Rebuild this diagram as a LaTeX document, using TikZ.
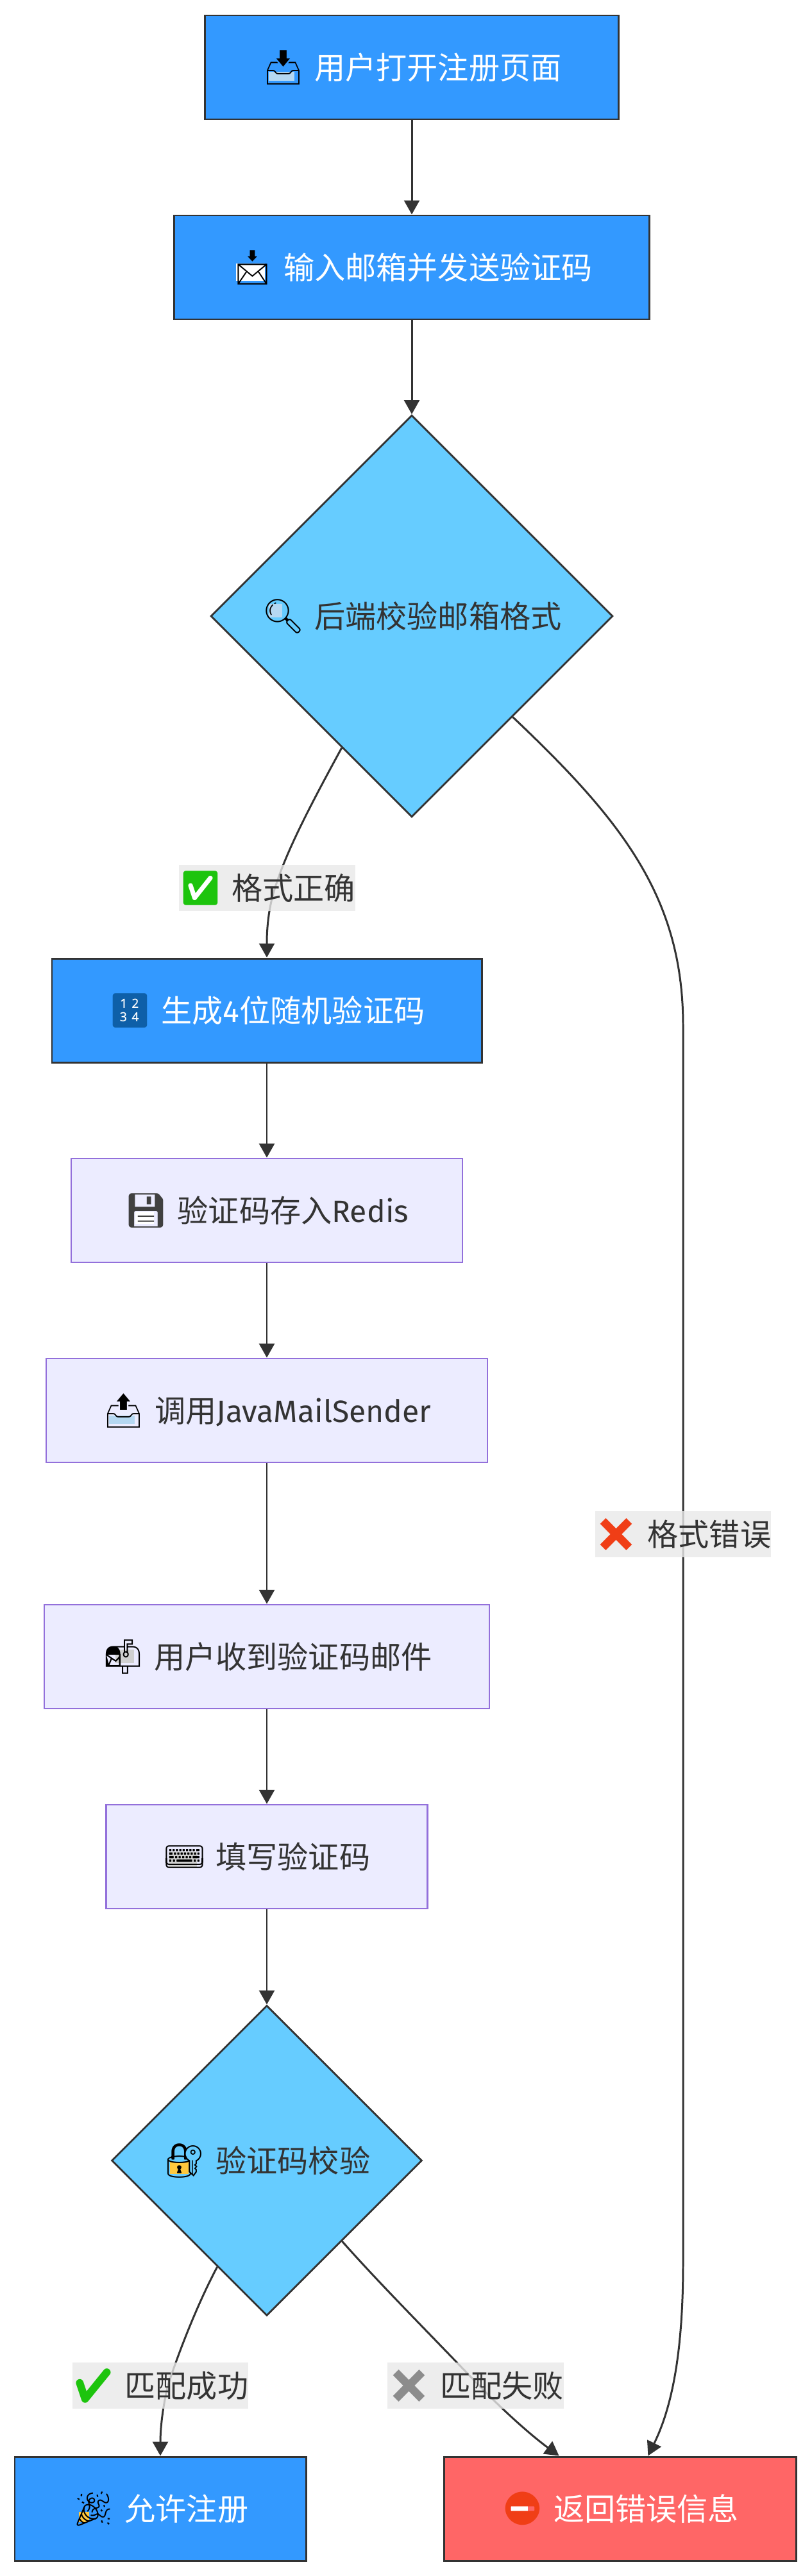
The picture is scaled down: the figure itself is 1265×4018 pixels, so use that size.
\documentclass[tikz,border=0pt]{standalone}
\usepackage{fontspec}
\setmainfont{Noto Sans CJK SC}
\newfontfamily\emojifont{Noto Emoji}
\newfontfamily\latinfont{Fira Sans}
\usetikzlibrary{shapes.geometric,arrows.meta}
\newcommand{\pxu}{0.02cm}
\newlength{\emosize}
\setlength{\emosize}{30pt}
\newcommand{\emo}[2]{\textcolor{#1}{\emojifont\fontsize{30pt}{30pt}\selectfont #2}\hspace{8.5pt}}
\newcommand{\emoback}[5]{\rlap{\hspace{#2\emosize}\textcolor{#1}{\rule[#3\emosize]{#4\emosize}{#5\emosize}}}}
\definecolor{inkgrey}{HTML}{333333}
\definecolor{bluefill}{HTML}{3399FF}
\definecolor{skyfill}{HTML}{66CCFF}
\definecolor{redfill}{HTML}{FF6666}
\definecolor{lavfill}{HTML}{ECECFF}
\definecolor{lavline}{HTML}{9370DB}
\definecolor{tagfill}{HTML}{E8E8E8}
\definecolor{icongreen}{HTML}{1DC40D}
\definecolor{iconred}{HTML}{F03E16}
\definecolor{iconblue}{HTML}{0E5FA8}
\definecolor{icontray}{HTML}{B5D8F2}
\definecolor{iconamber}{HTML}{FFC83D}
\definecolor{icongrey}{HTML}{D0D0D0}
\tikzset{% arrow tips and looks
	>={Triangle[length=12.5pt,width=13.6pt]},
	basebox/.style={rectangle, font=\fontsize{27.4pt}{32pt}\selectfont, inner sep=0pt, minimum height=162*\pxu},
	bluebox/.style={basebox, draw=inkgrey, line width=1.7pt, fill=bluefill, text=white},
	redbox/.style={basebox, draw=inkgrey, line width=1.7pt, fill=redfill, text=white},
	lavbox/.style={basebox, draw=lavline, line width=1.5pt, fill=lavfill, text=inkgrey},
	checkbox/.style={diamond, shape aspect=1, draw=inkgrey, line width=1.6pt, fill=skyfill, text=inkgrey, inner sep=0pt, font=\fontsize{27.4pt}{32pt}\selectfont},
	flow/.style={->, draw=inkgrey, line width=1.7pt},
	edgetag/.style={rectangle, fill=tagfill, fill opacity=.8, text opacity=1, text=inkgrey, inner sep=0pt, minimum width=273*\pxu, minimum height=72*\pxu, font=\fontsize{27.4pt}{32pt}\selectfont}
}
\begin{document}
\begin{tikzpicture}[x=\pxu,y=-\pxu]
	\useasboundingbox (0,0) rectangle (1265,4018);

	% main column
	\node[bluebox, minimum width=645*\pxu] (open) at (642,105) {\emoback{icontray}{.2}{-.05}{.75}{.25}\emo{black}{📥}用户打开注册页面};
	\node[bluebox, minimum width=741*\pxu] (mail) at (642,417) {\emoback{white}{.15}{-.05}{.85}{.5}\emo{black}{📩}输入邮箱并发送验证码};
	\node[checkbox, minimum width=627*\pxu, minimum height=627*\pxu] (fmt) at (642,961) {\emoback{icontray}{.2}{.3}{.4}{.4}\emo{black}{🔍}后端校验邮箱格式};

	% code path
	\node[bluebox, minimum width=670*\pxu] (gen) at (416,1576) {\emoback{white}{.15}{-.05}{.85}{.8}\emo{iconblue}{🔢}生成{\latinfont 4}位随机验证码};
	\node[lavbox, minimum width=610*\pxu] (store) at (416,1888) {\emoback{white}{.3}{-.05}{.55}{.35}\emo{black!75}{💾}验证码存入{\latinfont Redis}};
	\node[lavbox, minimum width=688*\pxu] (send) at (416,2200) {\emoback{icontray}{.2}{-.05}{.75}{.25}\emo{black}{📤}调用{\latinfont JavaMailSender}};
	\node[lavbox, minimum width=694*\pxu] (recv) at (416,2584) {\emoback{icongrey}{.4}{.15}{.55}{.4}\emo{black}{📬}用户收到验证码邮件};
	\node[lavbox, minimum width=501*\pxu] (fill) at (416,2896) {\emoback{icongrey}{.15}{.05}{.85}{.45}\emo{black}{⌨}填写验证码};
	\node[checkbox, minimum width=484*\pxu, minimum height=484*\pxu] (code) at (416,3370) {\emoback{iconamber}{.2}{-.05}{.55}{.35}\emo{black}{🔐}验证码校验};

	% results
	\node[bluebox, minimum width=454*\pxu] (allow) at (250,3913) {\emoback{iconamber}{.2}{-.05}{.3}{.3}\emo{black}{🎉}允许注册};
	\node[redbox, minimum width=549*\pxu] (back) at (966.5,3913) {\emoback{white}{.3}{.2}{.5}{.25}\emo{iconred}{⛔}返回错误信息};

	% straight edges
	\draw[flow] (open) -- (mail);
	\draw[flow] (mail) -- (fmt);
	\draw[flow] (gen) -- (store);
	\draw[flow] (store) -- (send);
	\draw[flow] (send) -- (recv);
	\draw[flow] (recv) -- (fill);
	\draw[flow] (fill) -- (code);

	% edges with tags
	\draw[flow] (fmt.-118) .. controls (490,1245) and (450,1320) .. (431,1378)
		node[edgetag] (fmtok) at (416.5,1385) {\emoback{white}{.15}{-.05}{.85}{.8}\emo{icongreen}{✅}格式正确}
		.. controls (418,1415) and (416,1450) .. (gen.north);
	\draw[flow] (fmt.-45.5) .. controls (970,1280) and (1065,1400) .. (1065,1600)
		-- (1065,2393) node[edgetag] (fmtbad) {\emo{iconred}{✖}格式错误}
		-- (1065,3530) .. controls (1065,3660) and (1050,3750) .. (back.62.9);
	\draw[flow] (code.-115.6) .. controls (315,3580) and (285,3650) .. (262,3720)
		node[edgetag] (codeok) at (250,3721) {\emo{icongreen}{✔}匹配成功}
		.. controls (253,3757) and (250,3790) .. (allow.north);
	\draw[flow] (code.-47) .. controls (590,3560) and (660,3630) .. (747,3721)
		node[edgetag] (codebad) at (741.5,3721) {\emo{black!45}{✖}匹配失败}
		.. controls (790,3765) and (830,3800) .. (back.139.7);

\end{tikzpicture}
\end{document}
